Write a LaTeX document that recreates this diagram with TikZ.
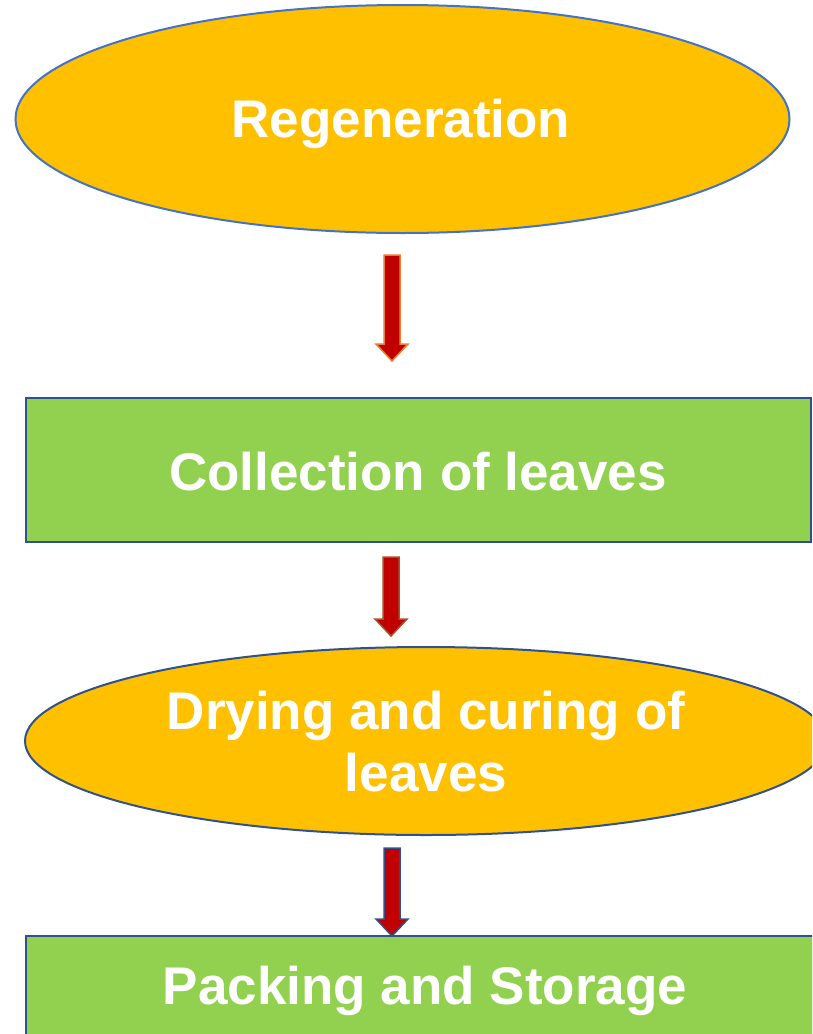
\documentclass[tikz,border=0pt]{standalone}
\usepackage{fontspec}
\setmainfont{Liberation Sans}
\usetikzlibrary{shapes.geometric}
\definecolor{ellfill}{HTML}{FFC000}
\definecolor{rectfill}{HTML}{92D050}
\definecolor{blueline}{HTML}{4472C4}
\definecolor{darkblue}{HTML}{2F528F}
\definecolor{arrred}{HTML}{C00000}
\definecolor{arrorange}{HTML}{ED7D31}
\definecolor{arrbrown}{HTML}{A5522A}
\newcommand{\myblockarrow}[4]{%
  \draw[line width=1.5pt, draw=#4, fill=arrred, line join=miter]
    (#1-8,#2) -- (#1+8,#2) -- (#1+8,#3-17) -- (#1+16,#3-17) -- (#1,#3)
    -- (#1-16,#3-17) -- (#1-8,#3-17) -- cycle;}
\tikzset{
  lbl/.style={text=white, font=\fontsize{53}{62}\selectfont\bfseries, align=center},
}
\begin{document}
\begin{tikzpicture}[x=1pt,y=-1pt]
\useasboundingbox (0,0) rectangle (812,1034);
\clip (0,0) rectangle (812,1034);
\draw[line width=2pt, draw=blueline, fill=ellfill] (402.5,119) ellipse [x radius=387, y radius=114];
\node[lbl] (regen) at (401,124) {Regeneration};
\draw[line width=2.5pt, draw=darkblue, fill=rectfill] (26,398) rectangle (811,542);
\node[lbl] (coll) at (418,472) {Collection of leaves};
\draw[line width=2pt, draw=darkblue, fill=ellfill] (426,741) ellipse [x radius=401, y radius=94];
\node[lbl] (dry) at (426,742) {Drying and curing of\\leaves};
\draw[line width=2.5pt, draw=darkblue, fill=rectfill] (26,936) rectangle (826,1050);
\node[lbl] (pack) at (425,991) {Packing and Storage};
\myblockarrow{392}{255}{361}{arrorange}
\myblockarrow{391}{557}{636}{arrbrown}
\myblockarrow{392}{848}{936}{darkblue}
\end{tikzpicture}
\end{document}
